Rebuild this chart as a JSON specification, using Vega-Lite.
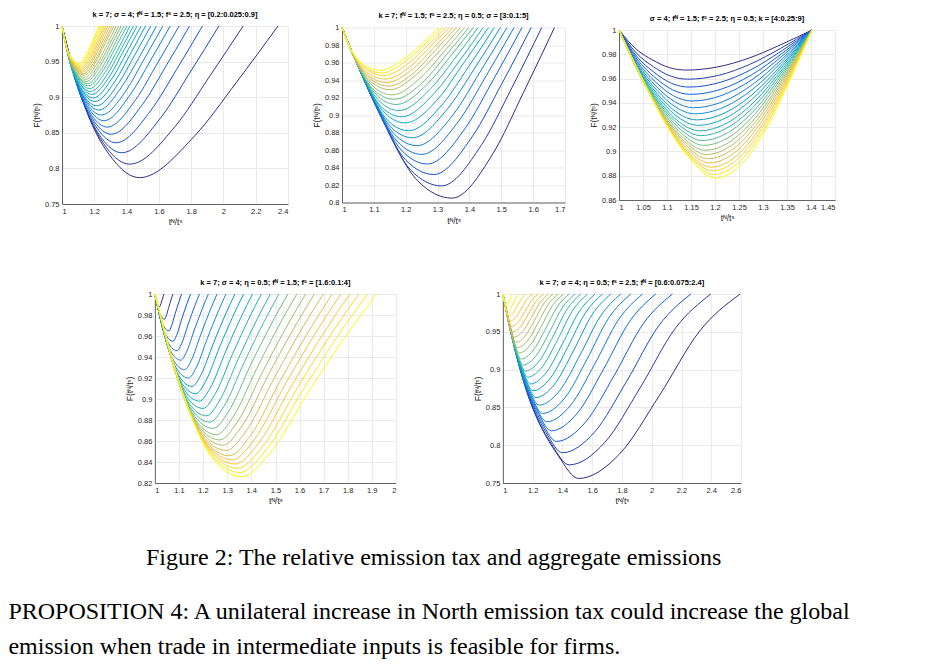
{
"$schema": "https://vega.github.io/schema/vega-lite/v6.json",
"background": "white",
"padding": {"left": 8, "top": 10, "right": 5, "bottom": 5},
"config": {
"view": {"stroke": null},
"axis": {"labelFont": "Liberation Sans", "labelFontSize": 7.5, "labelColor": "#262626", "titleFont": "Liberation Sans", "titleFontSize": 8.5, "titleFontWeight": "normal", "titleColor": "#262626", "domainColor": "#404040", "domainWidth": 0.8, "gridColor": "#e4e4e4", "gridWidth": 0.8, "ticks": false, "labelPadding": 3, "titlePadding": 3},
"title": {"font": "Liberation Sans", "fontSize": 7.5, "fontWeight": "bold", "color": "#000000", "offset": 4},
"line": {"strokeWidth": 1, "interpolate": "monotone", "clip": true}
},
"datasets": {
"p1": [
{"p":0.2,"x":1,"y":1},{"p":0.2,"x":1.148,"y":0.883},{"p":0.2,"x":1.314,"y":0.813},{"p":0.2,"x":1.48,"y":0.787},{"p":0.2,"x":1.823,"y":0.846},{"p":0.2,"x":2.081,"y":0.921},{"p":0.2,"x":2.338,"y":1},
{"p":0.225,"x":1,"y":1},{"p":0.225,"x":1.132,"y":0.893},{"p":0.225,"x":1.276,"y":0.829},{"p":0.225,"x":1.42,"y":0.806},{"p":0.225,"x":1.701,"y":0.859},{"p":0.225,"x":1.911,"y":0.928},{"p":0.225,"x":2.122,"y":1},
{"p":0.25,"x":1,"y":1},{"p":0.25,"x":1.117,"y":0.902},{"p":0.25,"x":1.244,"y":0.843},{"p":0.25,"x":1.37,"y":0.822},{"p":0.25,"x":1.611,"y":0.871},{"p":0.25,"x":1.791,"y":0.934},{"p":0.25,"x":1.972,"y":1},
{"p":0.275,"x":1,"y":1},{"p":0.275,"x":1.103,"y":0.91},{"p":0.275,"x":1.219,"y":0.856},{"p":0.275,"x":1.335,"y":0.836},{"p":0.275,"x":1.549,"y":0.881},{"p":0.275,"x":1.71,"y":0.939},{"p":0.275,"x":1.87,"y":1},
{"p":0.3,"x":1,"y":1},{"p":0.3,"x":1.094,"y":0.916},{"p":0.3,"x":1.2,"y":0.866},{"p":0.3,"x":1.305,"y":0.848},{"p":0.3,"x":1.499,"y":0.89},{"p":0.3,"x":1.645,"y":0.944},{"p":0.3,"x":1.79,"y":1},
{"p":0.325,"x":1,"y":1},{"p":0.325,"x":1.086,"y":0.922},{"p":0.325,"x":1.183,"y":0.875},{"p":0.325,"x":1.28,"y":0.858},{"p":0.325,"x":1.458,"y":0.897},{"p":0.325,"x":1.592,"y":0.948},{"p":0.325,"x":1.725,"y":1},
{"p":0.35,"x":1,"y":1},{"p":0.35,"x":1.079,"y":0.927},{"p":0.35,"x":1.17,"y":0.883},{"p":0.35,"x":1.26,"y":0.867},{"p":0.35,"x":1.424,"y":0.904},{"p":0.35,"x":1.547,"y":0.951},{"p":0.35,"x":1.67,"y":1},
{"p":0.375,"x":1,"y":1},{"p":0.375,"x":1.074,"y":0.931},{"p":0.375,"x":1.159,"y":0.89},{"p":0.375,"x":1.243,"y":0.875},{"p":0.375,"x":1.396,"y":0.909},{"p":0.375,"x":1.51,"y":0.954},{"p":0.375,"x":1.625,"y":1},
{"p":0.4,"x":1,"y":1},{"p":0.4,"x":1.068,"y":0.935},{"p":0.4,"x":1.148,"y":0.896},{"p":0.4,"x":1.228,"y":0.882},{"p":0.4,"x":1.371,"y":0.915},{"p":0.4,"x":1.478,"y":0.956},{"p":0.4,"x":1.585,"y":1},
{"p":0.425,"x":1,"y":1},{"p":0.425,"x":1.064,"y":0.938},{"p":0.425,"x":1.14,"y":0.901},{"p":0.425,"x":1.215,"y":0.888},{"p":0.425,"x":1.349,"y":0.919},{"p":0.425,"x":1.45,"y":0.959},{"p":0.425,"x":1.55,"y":1},
{"p":0.45,"x":1,"y":1},{"p":0.45,"x":1.058,"y":0.942},{"p":0.45,"x":1.131,"y":0.907},{"p":0.45,"x":1.204,"y":0.894},{"p":0.45,"x":1.33,"y":0.923},{"p":0.45,"x":1.424,"y":0.961},{"p":0.45,"x":1.518,"y":1},
{"p":0.475,"x":1,"y":1},{"p":0.475,"x":1.054,"y":0.945},{"p":0.475,"x":1.124,"y":0.911},{"p":0.475,"x":1.194,"y":0.899},{"p":0.475,"x":1.312,"y":0.927},{"p":0.475,"x":1.401,"y":0.963},{"p":0.475,"x":1.49,"y":1},
{"p":0.5,"x":1,"y":1},{"p":0.5,"x":1.051,"y":0.947},{"p":0.5,"x":1.118,"y":0.916},{"p":0.5,"x":1.185,"y":0.904},{"p":0.5,"x":1.297,"y":0.93},{"p":0.5,"x":1.381,"y":0.965},{"p":0.5,"x":1.465,"y":1},
{"p":0.525,"x":1,"y":1},{"p":0.525,"x":1.049,"y":0.949},{"p":0.525,"x":1.113,"y":0.919},{"p":0.525,"x":1.177,"y":0.908},{"p":0.525,"x":1.283,"y":0.933},{"p":0.525,"x":1.363,"y":0.966},{"p":0.525,"x":1.442,"y":1},
{"p":0.55,"x":1,"y":1},{"p":0.55,"x":1.046,"y":0.952},{"p":0.55,"x":1.108,"y":0.923},{"p":0.55,"x":1.17,"y":0.912},{"p":0.55,"x":1.27,"y":0.936},{"p":0.55,"x":1.346,"y":0.967},{"p":0.55,"x":1.421,"y":1},
{"p":0.575,"x":1,"y":1},{"p":0.575,"x":1.044,"y":0.954},{"p":0.575,"x":1.104,"y":0.926},{"p":0.575,"x":1.163,"y":0.916},{"p":0.575,"x":1.259,"y":0.939},{"p":0.575,"x":1.33,"y":0.969},{"p":0.575,"x":1.402,"y":1},
{"p":0.6,"x":1,"y":1},{"p":0.6,"x":1.042,"y":0.956},{"p":0.6,"x":1.1,"y":0.929},{"p":0.6,"x":1.157,"y":0.919},{"p":0.6,"x":1.248,"y":0.941},{"p":0.6,"x":1.316,"y":0.97},{"p":0.6,"x":1.384,"y":1},
{"p":0.625,"x":1,"y":1},{"p":0.625,"x":1.041,"y":0.957},{"p":0.625,"x":1.096,"y":0.931},{"p":0.625,"x":1.151,"y":0.922},{"p":0.625,"x":1.237,"y":0.944},{"p":0.625,"x":1.302,"y":0.971},{"p":0.625,"x":1.367,"y":1},
{"p":0.65,"x":1,"y":1},{"p":0.65,"x":1.039,"y":0.959},{"p":0.65,"x":1.093,"y":0.934},{"p":0.65,"x":1.146,"y":0.925},{"p":0.65,"x":1.228,"y":0.946},{"p":0.65,"x":1.29,"y":0.972},{"p":0.65,"x":1.351,"y":1},
{"p":0.675,"x":1,"y":1},{"p":0.675,"x":1.038,"y":0.96},{"p":0.675,"x":1.09,"y":0.937},{"p":0.675,"x":1.141,"y":0.928},{"p":0.675,"x":1.219,"y":0.948},{"p":0.675,"x":1.278,"y":0.973},{"p":0.675,"x":1.336,"y":1},
{"p":0.7,"x":1,"y":1},{"p":0.7,"x":1.037,"y":0.962},{"p":0.7,"x":1.087,"y":0.939},{"p":0.7,"x":1.136,"y":0.931},{"p":0.7,"x":1.21,"y":0.95},{"p":0.7,"x":1.266,"y":0.975},{"p":0.7,"x":1.322,"y":1},
{"p":0.725,"x":1,"y":1},{"p":0.725,"x":1.036,"y":0.963},{"p":0.725,"x":1.084,"y":0.941},{"p":0.725,"x":1.132,"y":0.933},{"p":0.725,"x":1.203,"y":0.951},{"p":0.725,"x":1.256,"y":0.975},{"p":0.725,"x":1.309,"y":1},
{"p":0.75,"x":1,"y":1},{"p":0.75,"x":1.035,"y":0.964},{"p":0.75,"x":1.082,"y":0.943},{"p":0.75,"x":1.128,"y":0.935},{"p":0.75,"x":1.195,"y":0.953},{"p":0.75,"x":1.246,"y":0.976},{"p":0.75,"x":1.296,"y":1},
{"p":0.775,"x":1,"y":1},{"p":0.775,"x":1.034,"y":0.965},{"p":0.775,"x":1.079,"y":0.945},{"p":0.775,"x":1.124,"y":0.937},{"p":0.775,"x":1.188,"y":0.954},{"p":0.775,"x":1.236,"y":0.977},{"p":0.775,"x":1.284,"y":1},
{"p":0.8,"x":1,"y":1},{"p":0.8,"x":1.032,"y":0.967},{"p":0.8,"x":1.076,"y":0.946},{"p":0.8,"x":1.12,"y":0.939},{"p":0.8,"x":1.181,"y":0.956},{"p":0.8,"x":1.226,"y":0.977},{"p":0.8,"x":1.272,"y":1},
{"p":0.825,"x":1,"y":1},{"p":0.825,"x":1.031,"y":0.968},{"p":0.825,"x":1.074,"y":0.948},{"p":0.825,"x":1.116,"y":0.941},{"p":0.825,"x":1.174,"y":0.957},{"p":0.825,"x":1.218,"y":0.978},{"p":0.825,"x":1.261,"y":1},
{"p":0.85,"x":1,"y":1},{"p":0.85,"x":1.03,"y":0.969},{"p":0.85,"x":1.071,"y":0.95},{"p":0.85,"x":1.112,"y":0.943},{"p":0.85,"x":1.167,"y":0.959},{"p":0.85,"x":1.209,"y":0.979},{"p":0.85,"x":1.25,"y":1},
{"p":0.875,"x":1,"y":1},{"p":0.875,"x":1.029,"y":0.97},{"p":0.875,"x":1.069,"y":0.952},{"p":0.875,"x":1.108,"y":0.945},{"p":0.875,"x":1.161,"y":0.96},{"p":0.875,"x":1.2,"y":0.98},{"p":0.875,"x":1.24,"y":1},
{"p":0.9,"x":1,"y":1},{"p":0.9,"x":1.028,"y":0.971},{"p":0.9,"x":1.066,"y":0.953},{"p":0.9,"x":1.104,"y":0.947},{"p":0.9,"x":1.154,"y":0.962},{"p":0.9,"x":1.192,"y":0.98},{"p":0.9,"x":1.23,"y":1}
],
"p2": [
{"p":3,"x":1,"y":1},{"p":3,"x":1.129,"y":0.893},{"p":3,"x":1.237,"y":0.825},{"p":3,"x":1.345,"y":0.805},{"p":3,"x":1.474,"y":0.856},{"p":3,"x":1.57,"y":0.926},{"p":3,"x":1.667,"y":1},
{"p":3.1,"x":1,"y":1},{"p":3.1,"x":1.119,"y":0.901},{"p":3.1,"x":1.216,"y":0.837},{"p":3.1,"x":1.312,"y":0.819},{"p":3.1,"x":1.438,"y":0.866},{"p":3.1,"x":1.533,"y":0.931},{"p":3.1,"x":1.627,"y":1},
{"p":3.2,"x":1,"y":1},{"p":3.2,"x":1.11,"y":0.908},{"p":3.2,"x":1.199,"y":0.849},{"p":3.2,"x":1.288,"y":0.832},{"p":3.2,"x":1.41,"y":0.876},{"p":3.2,"x":1.502,"y":0.936},{"p":3.2,"x":1.594,"y":1},
{"p":3.3,"x":1,"y":1},{"p":3.3,"x":1.103,"y":0.914},{"p":3.3,"x":1.186,"y":0.86},{"p":3.3,"x":1.268,"y":0.844},{"p":3.3,"x":1.387,"y":0.885},{"p":3.3,"x":1.476,"y":0.941},{"p":3.3,"x":1.565,"y":1},
{"p":3.4,"x":1,"y":1},{"p":3.4,"x":1.095,"y":0.92},{"p":3.4,"x":1.173,"y":0.87},{"p":3.4,"x":1.25,"y":0.855},{"p":3.4,"x":1.366,"y":0.893},{"p":3.4,"x":1.453,"y":0.945},{"p":3.4,"x":1.54,"y":1},
{"p":3.5,"x":1,"y":1},{"p":3.5,"x":1.088,"y":0.926},{"p":3.5,"x":1.162,"y":0.879},{"p":3.5,"x":1.235,"y":0.865},{"p":3.5,"x":1.348,"y":0.9},{"p":3.5,"x":1.433,"y":0.949},{"p":3.5,"x":1.518,"y":1},
{"p":3.6,"x":1,"y":1},{"p":3.6,"x":1.082,"y":0.931},{"p":3.6,"x":1.152,"y":0.887},{"p":3.6,"x":1.221,"y":0.874},{"p":3.6,"x":1.331,"y":0.907},{"p":3.6,"x":1.414,"y":0.952},{"p":3.6,"x":1.497,"y":1},
{"p":3.7,"x":1,"y":1},{"p":3.7,"x":1.077,"y":0.935},{"p":3.7,"x":1.143,"y":0.894},{"p":3.7,"x":1.209,"y":0.882},{"p":3.7,"x":1.317,"y":0.913},{"p":3.7,"x":1.397,"y":0.955},{"p":3.7,"x":1.478,"y":1},
{"p":3.8,"x":1,"y":1},{"p":3.8,"x":1.071,"y":0.94},{"p":3.8,"x":1.135,"y":0.902},{"p":3.8,"x":1.198,"y":0.891},{"p":3.8,"x":1.303,"y":0.919},{"p":3.8,"x":1.381,"y":0.959},{"p":3.8,"x":1.46,"y":1},
{"p":3.9,"x":1,"y":1},{"p":3.9,"x":1.066,"y":0.944},{"p":3.9,"x":1.127,"y":0.908},{"p":3.9,"x":1.188,"y":0.898},{"p":3.9,"x":1.29,"y":0.925},{"p":3.9,"x":1.367,"y":0.961},{"p":3.9,"x":1.443,"y":1},
{"p":4,"x":1,"y":1},{"p":4,"x":1.061,"y":0.948},{"p":4,"x":1.12,"y":0.915},{"p":4,"x":1.179,"y":0.905},{"p":4,"x":1.278,"y":0.93},{"p":4,"x":1.353,"y":0.964},{"p":4,"x":1.427,"y":1},
{"p":4.1,"x":1,"y":1},{"p":4.1,"x":1.056,"y":0.952},{"p":4.1,"x":1.114,"y":0.921},{"p":4.1,"x":1.171,"y":0.912},{"p":4.1,"x":1.267,"y":0.935},{"p":4.1,"x":1.34,"y":0.967},{"p":4.1,"x":1.412,"y":1},
{"p":4.2,"x":1,"y":1},{"p":4.2,"x":1.052,"y":0.955},{"p":4.2,"x":1.108,"y":0.926},{"p":4.2,"x":1.164,"y":0.918},{"p":4.2,"x":1.258,"y":0.939},{"p":4.2,"x":1.328,"y":0.969},{"p":4.2,"x":1.398,"y":1},
{"p":4.3,"x":1,"y":1},{"p":4.3,"x":1.049,"y":0.958},{"p":4.3,"x":1.103,"y":0.931},{"p":4.3,"x":1.157,"y":0.923},{"p":4.3,"x":1.248,"y":0.943},{"p":4.3,"x":1.317,"y":0.971},{"p":4.3,"x":1.385,"y":1},
{"p":4.4,"x":1,"y":1},{"p":4.4,"x":1.045,"y":0.961},{"p":4.4,"x":1.098,"y":0.936},{"p":4.4,"x":1.151,"y":0.929},{"p":4.4,"x":1.239,"y":0.948},{"p":4.4,"x":1.306,"y":0.973},{"p":4.4,"x":1.372,"y":1},
{"p":4.5,"x":1,"y":1},{"p":4.5,"x":1.043,"y":0.963},{"p":4.5,"x":1.094,"y":0.94},{"p":4.5,"x":1.145,"y":0.933},{"p":4.5,"x":1.231,"y":0.95},{"p":4.5,"x":1.295,"y":0.975},{"p":4.5,"x":1.36,"y":1},
{"p":4.6,"x":1,"y":1},{"p":4.6,"x":1.041,"y":0.965},{"p":4.6,"x":1.09,"y":0.943},{"p":4.6,"x":1.14,"y":0.937},{"p":4.6,"x":1.223,"y":0.953},{"p":4.6,"x":1.286,"y":0.976},{"p":4.6,"x":1.348,"y":1},
{"p":4.7,"x":1,"y":1},{"p":4.7,"x":1.037,"y":0.968},{"p":4.7,"x":1.086,"y":0.947},{"p":4.7,"x":1.135,"y":0.941},{"p":4.7,"x":1.216,"y":0.956},{"p":4.7,"x":1.276,"y":0.978},{"p":4.7,"x":1.337,"y":1},
{"p":4.8,"x":1,"y":1},{"p":4.8,"x":1.035,"y":0.97},{"p":4.8,"x":1.083,"y":0.951},{"p":4.8,"x":1.13,"y":0.945},{"p":4.8,"x":1.208,"y":0.959},{"p":4.8,"x":1.267,"y":0.979},{"p":4.8,"x":1.326,"y":1},
{"p":4.9,"x":1,"y":1},{"p":4.9,"x":1.034,"y":0.971},{"p":4.9,"x":1.08,"y":0.953},{"p":4.9,"x":1.125,"y":0.948},{"p":4.9,"x":1.201,"y":0.962},{"p":4.9,"x":1.258,"y":0.98},{"p":4.9,"x":1.315,"y":1},
{"p":5,"x":1,"y":1},{"p":5,"x":1.031,"y":0.973},{"p":5,"x":1.076,"y":0.956},{"p":5,"x":1.12,"y":0.951},{"p":5,"x":1.194,"y":0.964},{"p":5,"x":1.25,"y":0.981},{"p":5,"x":1.305,"y":1}
],
"p3": [
{"p":4,"x":1,"y":1},{"p":4,"x":1.035,"y":0.9845},{"p":4,"x":1.07,"y":0.9753},{"p":4,"x":1.105,"y":0.969},{"p":4,"x":1.14,"y":0.967},{"p":4,"x":1.2055,"y":0.9696},{"p":4,"x":1.271,"y":0.9769},{"p":4,"x":1.3365,"y":0.9878},{"p":4,"x":1.402,"y":1},
{"p":4.25,"x":1,"y":1},{"p":4.25,"x":1.0358,"y":0.9812},{"p":4.25,"x":1.0715,"y":0.9698},{"p":4.25,"x":1.1073,"y":0.9621},{"p":4.25,"x":1.143,"y":0.9595},{"p":4.25,"x":1.2078,"y":0.9627},{"p":4.25,"x":1.2725,"y":0.9717},{"p":4.25,"x":1.3373,"y":0.985},{"p":4.25,"x":1.402,"y":1},
{"p":4.5,"x":1,"y":1},{"p":4.5,"x":1.0365,"y":0.9785},{"p":4.5,"x":1.073,"y":0.9652},{"p":4.5,"x":1.1095,"y":0.9561},{"p":4.5,"x":1.146,"y":0.953},{"p":4.5,"x":1.21,"y":0.9568},{"p":4.5,"x":1.274,"y":0.9671},{"p":4.5,"x":1.338,"y":0.9826},{"p":4.5,"x":1.402,"y":1},
{"p":4.75,"x":1,"y":1},{"p":4.75,"x":1.0373,"y":0.9762},{"p":4.75,"x":1.0745,"y":0.9611},{"p":4.75,"x":1.1118,"y":0.9507},{"p":4.75,"x":1.149,"y":0.947},{"p":4.75,"x":1.2123,"y":0.9512},{"p":4.75,"x":1.2755,"y":0.9629},{"p":4.75,"x":1.3388,"y":0.9804},{"p":4.75,"x":1.402,"y":1},
{"p":5,"x":1,"y":1},{"p":5,"x":1.038,"y":0.9741},{"p":5,"x":1.076,"y":0.9573},{"p":5,"x":1.114,"y":0.9457},{"p":5,"x":1.152,"y":0.9415},{"p":5,"x":1.2145,"y":0.9462},{"p":5,"x":1.277,"y":0.9591},{"p":5,"x":1.3395,"y":0.9784},{"p":5,"x":1.402,"y":1},
{"p":5.25,"x":1,"y":1},{"p":5.25,"x":1.0388,"y":0.9721},{"p":5.25,"x":1.0775,"y":0.9536},{"p":5.25,"x":1.1163,"y":0.9409},{"p":5.25,"x":1.155,"y":0.936},{"p":5.25,"x":1.2168,"y":0.9411},{"p":5.25,"x":1.2785,"y":0.9552},{"p":5.25,"x":1.3403,"y":0.9763},{"p":5.25,"x":1.402,"y":1},
{"p":5.5,"x":1,"y":1},{"p":5.5,"x":1.0395,"y":0.9703},{"p":5.5,"x":1.079,"y":0.9504},{"p":5.5,"x":1.1185,"y":0.9364},{"p":5.5,"x":1.158,"y":0.931},{"p":5.5,"x":1.219,"y":0.9365},{"p":5.5,"x":1.28,"y":0.9517},{"p":5.5,"x":1.341,"y":0.9745},{"p":5.5,"x":1.402,"y":1},
{"p":5.75,"x":1,"y":1},{"p":5.75,"x":1.0403,"y":0.9687},{"p":5.75,"x":1.0805,"y":0.9471},{"p":5.75,"x":1.1208,"y":0.9321},{"p":5.75,"x":1.161,"y":0.926},{"p":5.75,"x":1.2213,"y":0.9319},{"p":5.75,"x":1.2815,"y":0.9482},{"p":5.75,"x":1.3418,"y":0.9726},{"p":5.75,"x":1.402,"y":1},
{"p":6,"x":1,"y":1},{"p":6,"x":1.041,"y":0.9673},{"p":6,"x":1.082,"y":0.9443},{"p":6,"x":1.123,"y":0.9282},{"p":6,"x":1.164,"y":0.9215},{"p":6,"x":1.2235,"y":0.9278},{"p":6,"x":1.283,"y":0.9451},{"p":6,"x":1.3425,"y":0.971},{"p":6,"x":1.402,"y":1},
{"p":6.25,"x":1,"y":1},{"p":6.25,"x":1.0418,"y":0.966},{"p":6.25,"x":1.0835,"y":0.9416},{"p":6.25,"x":1.1253,"y":0.9243},{"p":6.25,"x":1.167,"y":0.917},{"p":6.25,"x":1.2258,"y":0.9236},{"p":6.25,"x":1.2845,"y":0.9419},{"p":6.25,"x":1.3433,"y":0.9693},{"p":6.25,"x":1.402,"y":1},
{"p":6.5,"x":1,"y":1},{"p":6.5,"x":1.0425,"y":0.9649},{"p":6.5,"x":1.085,"y":0.9392},{"p":6.5,"x":1.1275,"y":0.921},{"p":6.5,"x":1.17,"y":0.913},{"p":6.5,"x":1.228,"y":0.92},{"p":6.5,"x":1.286,"y":0.9391},{"p":6.5,"x":1.344,"y":0.9678},{"p":6.5,"x":1.402,"y":1},
{"p":6.75,"x":1,"y":1},{"p":6.75,"x":1.0433,"y":0.9639},{"p":6.75,"x":1.0865,"y":0.9369},{"p":6.75,"x":1.1298,"y":0.9176},{"p":6.75,"x":1.173,"y":0.909},{"p":6.75,"x":1.2303,"y":0.9163},{"p":6.75,"x":1.2875,"y":0.9363},{"p":6.75,"x":1.3448,"y":0.9663},{"p":6.75,"x":1.402,"y":1},
{"p":7,"x":1,"y":1},{"p":7,"x":1.044,"y":0.963},{"p":7,"x":1.088,"y":0.9346},{"p":7,"x":1.132,"y":0.9143},{"p":7,"x":1.176,"y":0.905},{"p":7,"x":1.2325,"y":0.9126},{"p":7,"x":1.289,"y":0.9335},{"p":7,"x":1.3455,"y":0.9649},{"p":7,"x":1.402,"y":1},
{"p":7.25,"x":1,"y":1},{"p":7.25,"x":1.0448,"y":0.9621},{"p":7.25,"x":1.0895,"y":0.9323},{"p":7.25,"x":1.1343,"y":0.911},{"p":7.25,"x":1.179,"y":0.901},{"p":7.25,"x":1.2348,"y":0.9089},{"p":7.25,"x":1.2905,"y":0.9307},{"p":7.25,"x":1.3463,"y":0.9634},{"p":7.25,"x":1.402,"y":1},
{"p":7.5,"x":1,"y":1},{"p":7.5,"x":1.0455,"y":0.9614},{"p":7.5,"x":1.091,"y":0.9304},{"p":7.5,"x":1.1365,"y":0.9082},{"p":7.5,"x":1.182,"y":0.8975},{"p":7.5,"x":1.237,"y":0.9057},{"p":7.5,"x":1.292,"y":0.9283},{"p":7.5,"x":1.347,"y":0.9621},{"p":7.5,"x":1.402,"y":1},
{"p":7.75,"x":1,"y":1},{"p":7.75,"x":1.0463,"y":0.9608},{"p":7.75,"x":1.0925,"y":0.9286},{"p":7.75,"x":1.1388,"y":0.9054},{"p":7.75,"x":1.185,"y":0.894},{"p":7.75,"x":1.2393,"y":0.9025},{"p":7.75,"x":1.2935,"y":0.9258},{"p":7.75,"x":1.3478,"y":0.9608},{"p":7.75,"x":1.402,"y":1},
{"p":8,"x":1,"y":1},{"p":8,"x":1.047,"y":0.9603},{"p":8,"x":1.094,"y":0.9268},{"p":8,"x":1.141,"y":0.9026},{"p":8,"x":1.188,"y":0.8905},{"p":8,"x":1.2415,"y":0.8993},{"p":8,"x":1.295,"y":0.9234},{"p":8,"x":1.3485,"y":0.9595},{"p":8,"x":1.402,"y":1},
{"p":8.25,"x":1,"y":1},{"p":8.25,"x":1.0478,"y":0.9598},{"p":8.25,"x":1.0955,"y":0.925},{"p":8.25,"x":1.1433,"y":0.8998},{"p":8.25,"x":1.191,"y":0.887},{"p":8.25,"x":1.2438,"y":0.896},{"p":8.25,"x":1.2965,"y":0.9209},{"p":8.25,"x":1.3493,"y":0.9582},{"p":8.25,"x":1.402,"y":1},
{"p":8.5,"x":1,"y":1},{"p":8.5,"x":1.0485,"y":0.9595},{"p":8.5,"x":1.097,"y":0.9236},{"p":8.5,"x":1.1455,"y":0.8975},{"p":8.5,"x":1.194,"y":0.884},{"p":8.5,"x":1.246,"y":0.8933},{"p":8.5,"x":1.298,"y":0.9188},{"p":8.5,"x":1.35,"y":0.9571},{"p":8.5,"x":1.402,"y":1},
{"p":8.75,"x":1,"y":1},{"p":8.75,"x":1.0493,"y":0.9592},{"p":8.75,"x":1.0985,"y":0.9223},{"p":8.75,"x":1.1478,"y":0.8953},{"p":8.75,"x":1.197,"y":0.881},{"p":8.75,"x":1.2483,"y":0.8905},{"p":8.75,"x":1.2995,"y":0.9167},{"p":8.75,"x":1.3508,"y":0.956},{"p":8.75,"x":1.402,"y":1},
{"p":9,"x":1,"y":1},{"p":9,"x":1.05,"y":0.959},{"p":9,"x":1.1,"y":0.9209},{"p":9,"x":1.15,"y":0.893},{"p":9,"x":1.2,"y":0.878},{"p":9,"x":1.2505,"y":0.8878},{"p":9,"x":1.301,"y":0.9146},{"p":9,"x":1.3515,"y":0.9549},{"p":9,"x":1.402,"y":1}
],
"p4": [
{"p":1.6,"x":1,"y":1},{"p":1.6,"x":1.0066,"y":0.9934},{"p":1.6,"x":1.0133,"y":0.9892},{"p":1.6,"x":1.02,"y":0.988},{"p":1.6,"x":1.0236,"y":0.9894},{"p":1.6,"x":1.029,"y":0.9936},{"p":1.6,"x":1.0344,"y":0.9976},{"p":1.6,"x":1.038,"y":1},
{"p":1.7,"x":1,"y":1},{"p":1.7,"x":1.0132,"y":0.9868},{"p":1.7,"x":1.0266,"y":0.9784},{"p":1.7,"x":1.04,"y":0.976},{"p":1.7,"x":1.047,"y":0.9789},{"p":1.7,"x":1.0575,"y":0.9873},{"p":1.7,"x":1.068,"y":0.9952},{"p":1.7,"x":1.075,"y":1},
{"p":1.8,"x":1,"y":1},{"p":1.8,"x":1.0192,"y":0.9808},{"p":1.8,"x":1.0386,"y":0.9685},{"p":1.8,"x":1.058,"y":0.965},{"p":1.8,"x":1.0686,"y":0.9692},{"p":1.8,"x":1.0845,"y":0.9815},{"p":1.8,"x":1.1004,"y":0.993},{"p":1.8,"x":1.111,"y":1},
{"p":1.9,"x":1,"y":1},{"p":1.9,"x":1.0247,"y":0.9753},{"p":1.9,"x":1.0499,"y":0.9595},{"p":1.9,"x":1.075,"y":0.955},{"p":1.9,"x":1.0896,"y":0.9604},{"p":1.9,"x":1.1115,"y":0.9762},{"p":1.9,"x":1.1334,"y":0.991},{"p":1.9,"x":1.148,"y":1},
{"p":2.0,"x":1,"y":1},{"p":2.0,"x":1.0297,"y":0.9703},{"p":2.0,"x":1.0609,"y":0.9514},{"p":2.0,"x":1.092,"y":0.946},{"p":2.0,"x":1.1106,"y":0.9525},{"p":2.0,"x":1.1385,"y":0.9714},{"p":2.0,"x":1.1664,"y":0.9892},{"p":2.0,"x":1.185,"y":1},
{"p":2.1,"x":1,"y":1},{"p":2.1,"x":1.0346,"y":0.9654},{"p":2.1,"x":1.0713,"y":0.9433},{"p":2.1,"x":1.108,"y":0.937},{"p":2.1,"x":1.1308,"y":0.9446},{"p":2.1,"x":1.165,"y":0.9666},{"p":2.1,"x":1.1992,"y":0.9874},{"p":2.1,"x":1.222,"y":1},
{"p":2.2,"x":1,"y":1},{"p":2.2,"x":1.0396,"y":0.9604},{"p":2.2,"x":1.0818,"y":0.9352},{"p":2.2,"x":1.124,"y":0.928},{"p":2.2,"x":1.1508,"y":0.9366},{"p":2.2,"x":1.191,"y":0.9618},{"p":2.2,"x":1.2312,"y":0.9856},{"p":2.2,"x":1.258,"y":1},
{"p":2.3,"x":1,"y":1},{"p":2.3,"x":1.0453,"y":0.956},{"p":2.3,"x":1.0927,"y":0.928},{"p":2.3,"x":1.14,"y":0.92},{"p":2.3,"x":1.171,"y":0.9296},{"p":2.3,"x":1.2175,"y":0.9576},{"p":2.3,"x":1.264,"y":0.984},{"p":2.3,"x":1.295,"y":1},
{"p":2.4,"x":1,"y":1},{"p":2.4,"x":1.0512,"y":0.9516},{"p":2.4,"x":1.1031,"y":0.9208},{"p":2.4,"x":1.155,"y":0.912},{"p":2.4,"x":1.1904,"y":0.9226},{"p":2.4,"x":1.2435,"y":0.9534},{"p":2.4,"x":1.2966,"y":0.9824},{"p":2.4,"x":1.332,"y":1},
{"p":2.5,"x":1,"y":1},{"p":2.5,"x":1.0563,"y":0.9478},{"p":2.5,"x":1.1132,"y":0.9145},{"p":2.5,"x":1.17,"y":0.905},{"p":2.5,"x":1.2096,"y":0.9164},{"p":2.5,"x":1.269,"y":0.9497},{"p":2.5,"x":1.3284,"y":0.981},{"p":2.5,"x":1.368,"y":1},
{"p":2.6,"x":1,"y":1},{"p":2.6,"x":1.0615,"y":0.9439},{"p":2.6,"x":1.1233,"y":0.9082},{"p":2.6,"x":1.185,"y":0.898},{"p":2.6,"x":1.229,"y":0.9102},{"p":2.6,"x":1.295,"y":0.946},{"p":2.6,"x":1.361,"y":0.9796},{"p":2.6,"x":1.405,"y":1},
{"p":2.7,"x":1,"y":1},{"p":2.7,"x":1.0665,"y":0.9401},{"p":2.7,"x":1.1333,"y":0.9019},{"p":2.7,"x":1.2,"y":0.891},{"p":2.7,"x":1.2484,"y":0.9041},{"p":2.7,"x":1.321,"y":0.9422},{"p":2.7,"x":1.3936,"y":0.9782},{"p":2.7,"x":1.442,"y":1},
{"p":2.8,"x":1,"y":1},{"p":2.8,"x":1.0717,"y":0.9362},{"p":2.8,"x":1.1429,"y":0.8956},{"p":2.8,"x":1.214,"y":0.884},{"p":2.8,"x":1.267,"y":0.8979},{"p":2.8,"x":1.3465,"y":0.9385},{"p":2.8,"x":1.426,"y":0.9768},{"p":2.8,"x":1.479,"y":1},
{"p":2.9,"x":1,"y":1},{"p":2.9,"x":1.0761,"y":0.9329},{"p":2.9,"x":1.1521,"y":0.8902},{"p":2.9,"x":1.228,"y":0.878},{"p":2.9,"x":1.2854,"y":0.8926},{"p":2.9,"x":1.3715,"y":0.9353},{"p":2.9,"x":1.4576,"y":0.9756},{"p":2.9,"x":1.515,"y":1},
{"p":3.0,"x":1,"y":1},{"p":3.0,"x":1.0805,"y":0.9296},{"p":3.0,"x":1.1613,"y":0.8848},{"p":3.0,"x":1.242,"y":0.872},{"p":3.0,"x":1.304,"y":0.8874},{"p":3.0,"x":1.397,"y":0.9322},{"p":3.0,"x":1.49,"y":0.9744},{"p":3.0,"x":1.552,"y":1},
{"p":3.1,"x":1,"y":1},{"p":3.1,"x":1.0849,"y":0.9263},{"p":3.1,"x":1.1705,"y":0.8794},{"p":3.1,"x":1.256,"y":0.866},{"p":3.1,"x":1.3226,"y":0.8821},{"p":3.1,"x":1.4225,"y":0.929},{"p":3.1,"x":1.5224,"y":0.9732},{"p":3.1,"x":1.589,"y":1},
{"p":3.2,"x":1,"y":1},{"p":3.2,"x":1.0885,"y":0.9236},{"p":3.2,"x":1.1793,"y":0.8749},{"p":3.2,"x":1.27,"y":0.861},{"p":3.2,"x":1.3412,"y":0.8777},{"p":3.2,"x":1.448,"y":0.9263},{"p":3.2,"x":1.5548,"y":0.9722},{"p":3.2,"x":1.626,"y":1},
{"p":3.3,"x":1,"y":1},{"p":3.3,"x":1.0923,"y":0.9208},{"p":3.3,"x":1.1877,"y":0.8704},{"p":3.3,"x":1.283,"y":0.856},{"p":3.3,"x":1.3588,"y":0.8733},{"p":3.3,"x":1.4725,"y":0.9237},{"p":3.3,"x":1.5862,"y":0.9712},{"p":3.3,"x":1.662,"y":1},
{"p":3.4,"x":1,"y":1},{"p":3.4,"x":1.0959,"y":0.9181},{"p":3.4,"x":1.196,"y":0.8659},{"p":3.4,"x":1.296,"y":0.851},{"p":3.4,"x":1.3766,"y":0.8689},{"p":3.4,"x":1.4975,"y":0.921},{"p":3.4,"x":1.6184,"y":0.9702},{"p":3.4,"x":1.699,"y":1},
{"p":3.5,"x":1,"y":1},{"p":3.5,"x":1.0996,"y":0.9153},{"p":3.5,"x":1.2043,"y":0.8614},{"p":3.5,"x":1.309,"y":0.846},{"p":3.5,"x":1.3944,"y":0.8645},{"p":3.5,"x":1.5225,"y":0.9184},{"p":3.5,"x":1.6506,"y":0.9692},{"p":3.5,"x":1.736,"y":1},
{"p":3.6,"x":1,"y":1},{"p":3.6,"x":1.1033,"y":0.9131},{"p":3.6,"x":1.2122,"y":0.8578},{"p":3.6,"x":1.321,"y":0.842},{"p":3.6,"x":1.4112,"y":0.861},{"p":3.6,"x":1.5465,"y":0.9163},{"p":3.6,"x":1.6818,"y":0.9684},{"p":3.6,"x":1.772,"y":1},
{"p":3.7,"x":1,"y":1},{"p":3.7,"x":1.1071,"y":0.9109},{"p":3.7,"x":1.2201,"y":0.8542},{"p":3.7,"x":1.333,"y":0.838},{"p":3.7,"x":1.4282,"y":0.8574},{"p":3.7,"x":1.571,"y":0.9141},{"p":3.7,"x":1.7138,"y":0.9676},{"p":3.7,"x":1.809,"y":1},
{"p":3.8,"x":1,"y":1},{"p":3.8,"x":1.1109,"y":0.9087},{"p":3.8,"x":1.2275,"y":0.8506},{"p":3.8,"x":1.344,"y":0.834},{"p":3.8,"x":1.4444,"y":0.8539},{"p":3.8,"x":1.595,"y":0.912},{"p":3.8,"x":1.7456,"y":0.9668},{"p":3.8,"x":1.846,"y":1},
{"p":3.9,"x":1,"y":1},{"p":3.9,"x":1.1147,"y":0.9065},{"p":3.9,"x":1.2334,"y":0.847},{"p":3.9,"x":1.352,"y":0.83},{"p":3.9,"x":1.4582,"y":0.8504},{"p":3.9,"x":1.6175,"y":0.9099},{"p":3.9,"x":1.7768,"y":0.966},{"p":3.9,"x":1.883,"y":1},
{"p":4.0,"x":1,"y":1},{"p":4.0,"x":1.1185,"y":0.9043},{"p":4.0,"x":1.2393,"y":0.8434},{"p":4.0,"x":1.36,"y":0.826},{"p":4.0,"x":1.472,"y":0.8469},{"p":4.0,"x":1.64,"y":0.9078},{"p":4.0,"x":1.808,"y":0.9652},{"p":4.0,"x":1.92,"y":1}
],
"p5": [
{"p":0.6,"x":1,"y":1},{"p":0.6,"x":1.1724,"y":0.8658},{"p":0.6,"x":1.375,"y":0.7853},{"p":0.6,"x":1.51,"y":0.756},{"p":0.6,"x":1.7813,"y":0.7877},{"p":0.6,"x":2.0525,"y":0.8658},{"p":0.6,"x":2.3238,"y":0.9512},{"p":0.6,"x":2.595,"y":1},
{"p":0.675,"x":1,"y":1},{"p":0.675,"x":1.1526,"y":0.8757},{"p":0.675,"x":1.3286,"y":0.8011},{"p":0.675,"x":1.446,"y":0.774},{"p":0.675,"x":1.684,"y":0.8034},{"p":0.675,"x":1.922,"y":0.8757},{"p":0.675,"x":2.16,"y":0.9548},{"p":0.675,"x":2.398,"y":1},
{"p":0.75,"x":1,"y":1},{"p":0.75,"x":1.1393,"y":0.8845},{"p":0.75,"x":1.2957,"y":0.8152},{"p":0.75,"x":1.4,"y":0.79},{"p":0.75,"x":1.616,"y":0.8173},{"p":0.75,"x":1.832,"y":0.8845},{"p":0.75,"x":2.048,"y":0.958},{"p":0.75,"x":2.264,"y":1},
{"p":0.825,"x":1,"y":1},{"p":0.825,"x":1.1274,"y":0.8928},{"p":0.825,"x":1.267,"y":0.8284},{"p":0.825,"x":1.36,"y":0.805},{"p":0.825,"x":1.555,"y":0.8304},{"p":0.825,"x":1.75,"y":0.8928},{"p":0.825,"x":1.945,"y":0.961},{"p":0.825,"x":2.14,"y":1},
{"p":0.9,"x":1,"y":1},{"p":0.9,"x":1.1164,"y":0.9005},{"p":0.9,"x":1.2416,"y":0.8407},{"p":0.9,"x":1.325,"y":0.819},{"p":0.9,"x":1.5008,"y":0.8425},{"p":0.9,"x":1.6765,"y":0.9005},{"p":0.9,"x":1.8523,"y":0.9638},{"p":0.9,"x":2.028,"y":1},
{"p":0.975,"x":1,"y":1},{"p":0.975,"x":1.107,"y":0.9071},{"p":0.975,"x":1.2198,"y":0.8513},{"p":0.975,"x":1.295,"y":0.831},{"p":0.975,"x":1.456,"y":0.853},{"p":0.975,"x":1.617,"y":0.9071},{"p":0.975,"x":1.778,"y":0.9662},{"p":0.975,"x":1.939,"y":1},
{"p":1.05,"x":1,"y":1},{"p":1.05,"x":1.0986,"y":0.9131},{"p":1.05,"x":1.2002,"y":0.861},{"p":1.05,"x":1.268,"y":0.842},{"p":1.05,"x":1.416,"y":0.8625},{"p":1.05,"x":1.564,"y":0.9131},{"p":1.05,"x":1.712,"y":0.9684},{"p":1.05,"x":1.86,"y":1},
{"p":1.125,"x":1,"y":1},{"p":1.125,"x":1.091,"y":0.9192},{"p":1.125,"x":1.1828,"y":0.8706},{"p":1.125,"x":1.244,"y":0.853},{"p":1.125,"x":1.3813,"y":0.8721},{"p":1.125,"x":1.5185,"y":0.9192},{"p":1.125,"x":1.6558,"y":0.9706},{"p":1.125,"x":1.793,"y":1},
{"p":1.2,"x":1,"y":1},{"p":1.2,"x":1.0841,"y":0.9247},{"p":1.2,"x":1.1668,"y":0.8794},{"p":1.2,"x":1.222,"y":0.863},{"p":1.2,"x":1.348,"y":0.8808},{"p":1.2,"x":1.474,"y":0.9247},{"p":1.2,"x":1.6,"y":0.9726},{"p":1.2,"x":1.726,"y":1},
{"p":1.275,"x":1,"y":1},{"p":1.275,"x":1.078,"y":0.9296},{"p":1.275,"x":1.1524,"y":0.8874},{"p":1.275,"x":1.202,"y":0.872},{"p":1.275,"x":1.319,"y":0.8886},{"p":1.275,"x":1.436,"y":0.9296},{"p":1.275,"x":1.553,"y":0.9744},{"p":1.275,"x":1.67,"y":1},
{"p":1.35,"x":1,"y":1},{"p":1.35,"x":1.0718,"y":0.9346},{"p":1.35,"x":1.1391,"y":0.8953},{"p":1.35,"x":1.184,"y":0.881},{"p":1.35,"x":1.293,"y":0.8965},{"p":1.35,"x":1.402,"y":0.9346},{"p":1.35,"x":1.511,"y":0.9762},{"p":1.35,"x":1.62,"y":1},
{"p":1.425,"x":1,"y":1},{"p":1.425,"x":1.0656,"y":0.9395},{"p":1.425,"x":1.1264,"y":0.9032},{"p":1.425,"x":1.167,"y":0.89},{"p":1.425,"x":1.2675,"y":0.9043},{"p":1.425,"x":1.368,"y":0.9395},{"p":1.425,"x":1.4685,"y":0.978},{"p":1.425,"x":1.569,"y":1},
{"p":1.5,"x":1,"y":1},{"p":1.5,"x":1.0601,"y":0.9439},{"p":1.5,"x":1.1146,"y":0.9102},{"p":1.5,"x":1.151,"y":0.898},{"p":1.5,"x":1.2443,"y":0.9113},{"p":1.5,"x":1.3375,"y":0.9439},{"p":1.5,"x":1.4308,"y":0.9796},{"p":1.5,"x":1.524,"y":1},
{"p":1.575,"x":1,"y":1},{"p":1.575,"x":1.0546,"y":0.9483},{"p":1.575,"x":1.1034,"y":0.9173},{"p":1.575,"x":1.136,"y":0.906},{"p":1.575,"x":1.223,"y":0.9182},{"p":1.575,"x":1.31,"y":0.9483},{"p":1.575,"x":1.397,"y":0.9812},{"p":1.575,"x":1.484,"y":1},
{"p":1.65,"x":1,"y":1},{"p":1.65,"x":1.0493,"y":0.9527},{"p":1.65,"x":1.0929,"y":0.9243},{"p":1.65,"x":1.122,"y":0.914},{"p":1.65,"x":1.203,"y":0.9252},{"p":1.65,"x":1.284,"y":0.9527},{"p":1.65,"x":1.365,"y":0.9828},{"p":1.65,"x":1.446,"y":1},
{"p":1.725,"x":1,"y":1},{"p":1.725,"x":1.0447,"y":0.9571},{"p":1.725,"x":1.0833,"y":0.9314},{"p":1.725,"x":1.109,"y":0.922},{"p":1.725,"x":1.1835,"y":0.9321},{"p":1.725,"x":1.258,"y":0.9571},{"p":1.725,"x":1.3325,"y":0.9844},{"p":1.725,"x":1.407,"y":1},
{"p":1.8,"x":1,"y":1},{"p":1.8,"x":1.0406,"y":0.961},{"p":1.8,"x":1.0744,"y":0.9375},{"p":1.8,"x":1.097,"y":0.929},{"p":1.8,"x":1.1658,"y":0.9382},{"p":1.8,"x":1.2345,"y":0.961},{"p":1.8,"x":1.3033,"y":0.9858},{"p":1.8,"x":1.372,"y":1},
{"p":1.875,"x":1,"y":1},{"p":1.875,"x":1.0367,"y":0.9648},{"p":1.875,"x":1.0663,"y":0.9437},{"p":1.875,"x":1.086,"y":0.936},{"p":1.875,"x":1.149,"y":0.9443},{"p":1.875,"x":1.212,"y":0.9648},{"p":1.875,"x":1.275,"y":0.9872},{"p":1.875,"x":1.338,"y":1},
{"p":1.95,"x":1,"y":1},{"p":1.95,"x":1.0326,"y":0.9687},{"p":1.95,"x":1.058,"y":0.9498},{"p":1.95,"x":1.075,"y":0.943},{"p":1.95,"x":1.133,"y":0.9504},{"p":1.95,"x":1.191,"y":0.9687},{"p":1.95,"x":1.249,"y":0.9886},{"p":1.95,"x":1.307,"y":1},
{"p":2.025,"x":1,"y":1},{"p":2.025,"x":1.0286,"y":0.9725},{"p":2.025,"x":1.0504,"y":0.956},{"p":2.025,"x":1.065,"y":0.95},{"p":2.025,"x":1.117,"y":0.9565},{"p":2.025,"x":1.169,"y":0.9725},{"p":2.025,"x":1.221,"y":0.99},{"p":2.025,"x":1.273,"y":1},
{"p":2.1,"x":1,"y":1},{"p":2.1,"x":1.0246,"y":0.9764},{"p":2.1,"x":1.0434,"y":0.9622},{"p":2.1,"x":1.056,"y":0.957},{"p":2.1,"x":1.1018,"y":0.9626},{"p":2.1,"x":1.1475,"y":0.9764},{"p":2.1,"x":1.1933,"y":0.9914},{"p":2.1,"x":1.239,"y":1},
{"p":2.175,"x":1,"y":1},{"p":2.175,"x":1.0206,"y":0.9802},{"p":2.175,"x":1.0364,"y":0.9683},{"p":2.175,"x":1.047,"y":0.964},{"p":2.175,"x":1.085,"y":0.9687},{"p":2.175,"x":1.123,"y":0.9802},{"p":2.175,"x":1.161,"y":0.9929},{"p":2.175,"x":1.199,"y":1},
{"p":2.25,"x":1,"y":1},{"p":2.25,"x":1.0166,"y":0.9841},{"p":2.25,"x":1.03,"y":0.9745},{"p":2.25,"x":1.039,"y":0.971},{"p":2.25,"x":1.068,"y":0.9748},{"p":2.25,"x":1.097,"y":0.9841},{"p":2.25,"x":1.126,"y":0.9942},{"p":2.25,"x":1.155,"y":1},
{"p":2.325,"x":1,"y":1},{"p":2.325,"x":1.0126,"y":0.9879},{"p":2.325,"x":1.0236,"y":0.9806},{"p":2.325,"x":1.031,"y":0.978},{"p":2.325,"x":1.0508,"y":0.9809},{"p":2.325,"x":1.0705,"y":0.9879},{"p":2.325,"x":1.0903,"y":0.9956},{"p":2.325,"x":1.11,"y":1},
{"p":2.4,"x":1,"y":1},{"p":2.4,"x":1.0085,"y":0.9918},{"p":2.4,"x":1.0178,"y":0.9868},{"p":2.4,"x":1.024,"y":0.985},{"p":2.4,"x":1.0343,"y":0.987},{"p":2.4,"x":1.0445,"y":0.9918},{"p":2.4,"x":1.0548,"y":0.997},{"p":2.4,"x":1.065,"y":1}
]
},
"vconcat": [
{
"hconcat": [
{
"width": 226, "height": 178,
"data": {"name": "p1"},
"title": {"text": "k = 7; σ = 4; fᴺ = 1.5; fˢ = 2.5; η = [0.2:0.025:0.9]"},
"mark": {"type": "line"},
"encoding": {
"x": {"field": "x", "type": "quantitative", "scale": {"domain": [1, 2.4], "nice": false, "zero": false}, "axis": {"values": [1, 1.2, 1.4, 1.6, 1.8, 2, 2.2, 2.4], "format": "~g", "title": "tᴺ/tˢ"}},
"y": {"field": "y", "type": "quantitative", "scale": {"domain": [0.75, 1], "nice": false, "zero": false}, "axis": {"values": [0.75, 0.8, 0.85, 0.9, 0.95, 1], "format": "~g", "title": "F(tᴺ/tˢ)"}},
"detail": {"field": "p", "type": "nominal"},
"color": {"field": "p", "type": "quantitative", "legend": null, "scale": {"domain": [0.2, 0.2875, 0.375, 0.4625, 0.55, 0.6375, 0.725, 0.8125, 0.9], "range": ["#352a87", "#0f5cdd", "#1481d6", "#06a4ca", "#2eb7a4", "#87bf77", "#d1bb59", "#fec832", "#f9fb0e"], "interpolate": "rgb"}}
}
},
{
"width": 223, "height": 175,
"data": {"name": "p2"},
"title": {"text": "k = 7; fᴺ = 1.5; fˢ = 2.5; η = 0.5; σ = [3:0.1:5]"},
"mark": {"type": "line"},
"encoding": {
"x": {"field": "x", "type": "quantitative", "scale": {"domain": [1, 1.7], "nice": false, "zero": false}, "axis": {"values": [1, 1.1, 1.2, 1.3, 1.4, 1.5, 1.6, 1.7], "format": "~g", "title": "tᴺ/tˢ"}},
"y": {"field": "y", "type": "quantitative", "scale": {"domain": [0.8, 1], "nice": false, "zero": false}, "axis": {"values": [0.8, 0.82, 0.84, 0.86, 0.88, 0.9, 0.92, 0.94, 0.96, 0.98, 1], "format": "~g", "title": "F(tᴺ/tˢ)"}},
"detail": {"field": "p", "type": "nominal"},
"color": {"field": "p", "type": "quantitative", "legend": null, "scale": {"domain": [3, 3.25, 3.5, 3.75, 4, 4.25, 4.5, 4.75, 5], "range": ["#352a87", "#0f5cdd", "#1481d6", "#06a4ca", "#2eb7a4", "#87bf77", "#d1bb59", "#fec832", "#f9fb0e"], "interpolate": "rgb"}}
}
},
{
"width": 216, "height": 170,
"data": {"name": "p3"},
"title": {"text": "σ = 4; fᴺ = 1.5; fˢ = 2.5; η = 0.5; k = [4:0.25:9]"},
"mark": {"type": "line"},
"encoding": {
"x": {"field": "x", "type": "quantitative", "scale": {"domain": [1, 1.45], "nice": false, "zero": false}, "axis": {"values": [1, 1.05, 1.1, 1.15, 1.2, 1.25, 1.3, 1.35, 1.4, 1.45], "format": "~g", "title": "tᴺ/tˢ"}},
"y": {"field": "y", "type": "quantitative", "scale": {"domain": [0.86, 1], "nice": false, "zero": false}, "axis": {"values": [0.86, 0.88, 0.9, 0.92, 0.94, 0.96, 0.98, 1], "format": "~g", "title": "F(tᴺ/tˢ)"}},
"detail": {"field": "p", "type": "nominal"},
"color": {"field": "p", "type": "quantitative", "legend": null, "scale": {"domain": [4, 4.625, 5.25, 5.875, 6.5, 7.125, 7.75, 8.375, 9], "range": ["#352a87", "#0f5cdd", "#1481d6", "#06a4ca", "#2eb7a4", "#87bf77", "#d1bb59", "#fec832", "#f9fb0e"], "interpolate": "rgb"}}
}
}
],
"spacing": 54, "center": true, "bounds": "flush",
"resolve": {"scale": {"color": "independent"}}
},
{
"hconcat": [
{
"width": 241, "height": 189,
"data": {"name": "p4"},
"title": {"text": "k = 7; σ = 4; η = 0.5; fᴺ = 1.5; fˢ = [1.6:0.1:4]"},
"mark": {"type": "line"},
"encoding": {
"x": {"field": "x", "type": "quantitative", "scale": {"domain": [1, 2], "nice": false, "zero": false}, "axis": {"values": [1, 1.1, 1.2, 1.3, 1.4, 1.5, 1.6, 1.7, 1.8, 1.9, 2], "format": "~g", "title": "tᴺ/tˢ"}},
"y": {"field": "y", "type": "quantitative", "scale": {"domain": [0.82, 1], "nice": false, "zero": false}, "axis": {"values": [0.82, 0.84, 0.86, 0.88, 0.9, 0.92, 0.94, 0.96, 0.98, 1], "format": "~g", "title": "F(tᴺ/tˢ)"}},
"detail": {"field": "p", "type": "nominal"},
"color": {"field": "p", "type": "quantitative", "legend": null, "scale": {"domain": [1.6, 1.9, 2.2, 2.5, 2.8, 3.1, 3.4, 3.7, 4], "range": ["#352a87", "#0f5cdd", "#1481d6", "#06a4ca", "#2eb7a4", "#87bf77", "#d1bb59", "#fec832", "#f9fb0e"], "interpolate": "rgb"}}
}
},
{
"width": 238, "height": 189,
"data": {"name": "p5"},
"title": {"text": "k = 7; σ = 4; η = 0.5; fˢ = 2.5; fᴺ = [0.6:0.075:2.4]"},
"mark": {"type": "line"},
"encoding": {
"x": {"field": "x", "type": "quantitative", "scale": {"domain": [1, 2.6], "nice": false, "zero": false}, "axis": {"values": [1, 1.2, 1.4, 1.6, 1.8, 2, 2.2, 2.4, 2.6], "format": "~g", "title": "tᴺ/tˢ"}},
"y": {"field": "y", "type": "quantitative", "scale": {"domain": [0.75, 1], "nice": false, "zero": false}, "axis": {"values": [0.75, 0.8, 0.85, 0.9, 0.95, 1], "format": "~g", "title": "F(tᴺ/tˢ)"}},
"detail": {"field": "p", "type": "nominal"},
"color": {"field": "p", "type": "quantitative", "legend": null, "scale": {"domain": [0.6, 0.825, 1.05, 1.275, 1.5, 1.725, 1.95, 2.175, 2.4], "range": ["#352a87", "#0f5cdd", "#1481d6", "#06a4ca", "#2eb7a4", "#87bf77", "#d1bb59", "#fec832", "#f9fb0e"], "interpolate": "rgb"}}
}
}
],
"spacing": 107, "bounds": "flush",
"resolve": {"scale": {"color": "independent"}},
"title": {"text": "Figure 2: The relative emission tax and aggregate emissions", "orient": "bottom", "anchor": "middle", "font": "Liberation Serif", "fontSize": 24, "fontWeight": "normal", "color": "#000000", "offset": 41}
}
],
"spacing": 52, "center": true,
"resolve": {"scale": {"color": "independent"}},
"title": {"text": ["PROPOSITION 4: A unilateral increase in North emission tax could increase the global", "emission when trade in intermediate inputs is feasible for firms."], "orient": "bottom", "anchor": "start", "font": "Liberation Serif", "fontSize": 24, "lineHeight": 35, "fontWeight": "normal", "color": "#000000", "offset": 30, "dx": -24}
}
